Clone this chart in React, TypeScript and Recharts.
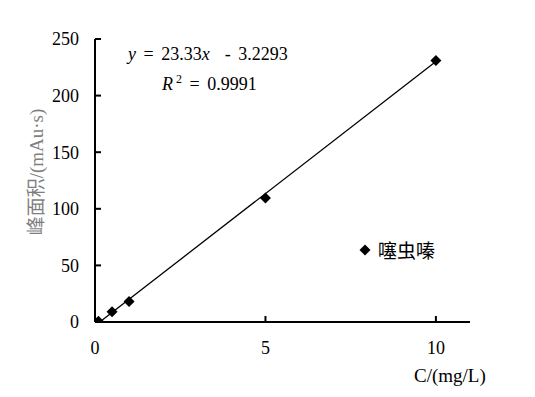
import React from "react"
import { ScatterChart, Scatter, XAxis, YAxis } from "recharts"

// concentration (mg/L) and peak area
const conc = [0.1, 0.5, 1, 5, 10]
const area = [0.6, 9, 18, 109.5, 231]
const xTicks = [0, 5, 10]
const yTicks = [0, 50, 100, 150, 200, 250]
const slope = 23.33
const intercept = -3.2293
const fitX = [-intercept / slope, 10]

const points = conc.map((c, i) => ({ x: c, y: area[i] }))
const fitLine = fitX.map((x) => ({ x, y: slope * x + intercept }))

const serif = "'Liberation Serif', serif"
const cjk = "'Noto Sans CJK SC', sans-serif"

const Diamond = (props: any) => {
  const { cx, cy } = props
  const r = 5.5
  return <polygon points={`${cx},${cy - r} ${cx + r},${cy} ${cx},${cy + r} ${cx - r},${cy}`} fill="#000" />
}

export default function App() {
  return (
    <div style={{ position: "absolute", left: 0, top: 0, width: 535, height: 397, background: "#fff", fontFamily: serif }}>
      <ScatterChart width={535} height={397} margin={{ top: 39, right: 65, bottom: 45, left: 0 }}>
        <XAxis
          type="number"
          dataKey="x"
          height={30}
          domain={[0, 11]}
          ticks={xTicks}
          allowDataOverflow
          tickSize={-6}
          tickMargin={25}
          axisLine={{ stroke: "#000", strokeWidth: 2 }}
          tickLine={{ stroke: "#000", strokeWidth: 2 }}
          tick={{ fill: "#000", fontFamily: serif, fontSize: 18 }}
        />
        <YAxis
          type="number"
          dataKey="y"
          width={95}
          domain={[0, 250]}
          ticks={yTicks}
          allowDataOverflow
          tickSize={-6}
          tickMargin={22}
          axisLine={{ stroke: "#000", strokeWidth: 2 }}
          tickLine={{ stroke: "#000", strokeWidth: 2 }}
          tick={{ fill: "#000", fontFamily: serif, fontSize: 18 }}
        />
        <Scatter
          data={fitLine}
          line={{ stroke: "#000", strokeWidth: 1.3 }}
          shape={() => <g />}
          legendType="none"
          isAnimationActive={false}
        />
        <Scatter data={points} name="噻虫嗪" shape={<Diamond />} isAnimationActive={false} />
      </ScatterChart>

      {/* legend */}
      <div
        style={{
          position: "absolute",
          left: 358,
          top: 236,
          display: "flex",
          alignItems: "center",
          fontFamily: cjk,
          fontSize: 19,
          color: "#000",
          whiteSpace: "nowrap",
        }}
      >
        <svg width={14} height={14} style={{ marginRight: 6 }}>
          <polygon points="7,1.5 12.5,7 7,12.5 1.5,7" fill="#000" />
        </svg>
        噻虫嗪
      </div>

      {/* regression text */}
      <div style={{ position: "absolute", left: 128, top: 44, fontSize: 18, wordSpacing: 3, whiteSpace: "pre", color: "#000" }}>
        <i>y</i> = 23.33<i>x</i>  - 3.2293
      </div>
      <div style={{ position: "absolute", left: 162, top: 72, fontSize: 18, wordSpacing: 3, whiteSpace: "nowrap", color: "#000" }}>
        <i>R</i>
        <sup style={{ fontSize: 12, verticalAlign: "7px", marginLeft: 3 }}>2</sup> = 0.9991
      </div>

      {/* axis titles */}
      <div style={{ position: "absolute", left: 414, top: 365, fontSize: 19, whiteSpace: "nowrap", color: "#000" }}>
        C/(mg/L)
      </div>
      <div
        style={{
          position: "absolute",
          left: 34,
          top: 172,
          transform: "translate(-50%, -50%) rotate(-90deg)",
          fontSize: 19,
          whiteSpace: "nowrap",
          color: "#7f7f7f",
        }}
      >
        <span style={{ fontFamily: cjk }}>峰面积</span>/(mAu·s)
      </div>
    </div>
  )
}
